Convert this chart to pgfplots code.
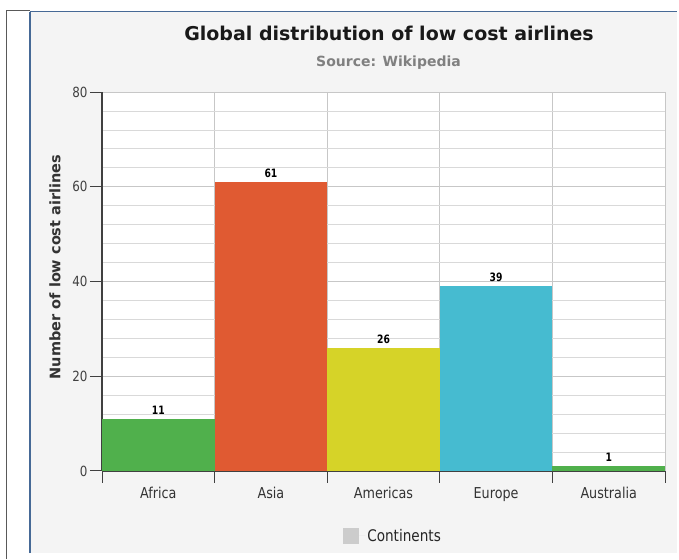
\documentclass[border=0pt]{standalone}
\usepackage{pgfplots}
\pgfplotsset{compat=1.18}
\usepackage{fontspec}
\setmainfont{DejaVu Sans}
\newfontfamily\narrow[FakeStretch=0.85]{DejaVu Sans}
\newfontfamily\narrowb[FakeStretch=0.8]{DejaVu Sans Bold}
\definecolor{cgreen}{RGB}{80,176,76}
\definecolor{corange}{RGB}{224,90,50}
\definecolor{cyellow}{RGB}{214,211,40}
\definecolor{ccyan}{RGB}{70,187,208}
\definecolor{panel}{RGB}{244,244,244}
\definecolor{frameblue}{RGB}{70,105,150}
\begin{document}
\begin{tikzpicture}
\path[use as bounding box] (0pt,0pt) rectangle (679pt,559pt);
\fill[white] (0pt,0pt) rectangle (679pt,559pt);
\fill[panel] (30pt,6pt) rectangle (677pt,548pt);
\draw[black!65, line width=1pt] (6pt,0pt) -- (6pt,548pt) -- (30pt,548pt);
\draw[frameblue, line width=1.5pt] (30pt,6pt) -- (30pt,547pt);
\draw[frameblue, line width=1.5pt] (30pt,547.5pt) -- (677pt,547.5pt);
\begin{axis}[
  at={(102pt,88pt)}, anchor=south west,
  scale only axis, width=563pt, height=379pt,
  xmin=-0.5, xmax=4.5, ymin=0, ymax=80,
  axis background/.style={fill=white},
  axis lines*=left,
  axis line style={black!75, line width=1.2pt},
  xtick={-0.5,0.5,1.5,2.5,3.5,4.5},
  xticklabels={},
  xmajorgrids,
  major x tick style={black!75, line width=1pt},
  xticklabel style={font=\narrow\fontsize{15}{17}\selectfont, text=black!80, yshift=-13pt},
  extra x ticks={0,1,2,3,4},
  extra x tick labels={Africa,Asia,Americas,Europe,Australia},
  extra x tick style={grid=none, major tick length=0pt, tick style={draw=none}},
  ytick={0,20,40,60,80},
  minor y tick num=4,
  ymajorgrids, yminorgrids,
  major grid style={black!22, line width=0.8pt},
  minor grid style={black!15, line width=0.8pt},
  major y tick style={black!75, line width=1pt},
  major tick length=12pt, minor tick length=0pt,
  tick align=outside,
  yticklabel style={font=\narrow\fontsize{14}{16}\selectfont, text=black!75, xshift=1pt},
  /pgf/number format/assume math mode=true,
  nodes near coords,
  every node near coord/.append style={font=\narrowb\fontsize{11.5}{13}\selectfont, text=black, yshift=1pt},
  legend style={at={(0.517,-0.1715)}, anchor=center, draw=none, fill=none,
     font=\narrow\fontsize{16}{18}\selectfont, text=black!85},
  legend image code/.code={\path (-3pt,0pt) -- (19pt,0pt);\fill[#1] (-3pt,-8pt) rectangle (13pt,8pt);},
]
\addplot[ybar, bar width=1, bar shift=0pt, fill=cgreen, draw=none, forget plot] coordinates {(0,11)};
\addplot[ybar, bar width=1, bar shift=0pt, fill=corange, draw=none, forget plot] coordinates {(1,61)};
\addplot[ybar, bar width=1, bar shift=0pt, fill=cyellow, draw=none, forget plot] coordinates {(2,26)};
\addplot[ybar, bar width=1, bar shift=0pt, fill=ccyan, draw=none, forget plot] coordinates {(3,39)};
\addplot[ybar, bar width=1, bar shift=0pt, fill=cgreen, draw=none, forget plot] coordinates {(4,1)};
\addlegendimage{fill=black!20, draw=none}
\addlegendentry{Continents}
\end{axis}
\node[font=\bfseries\fontsize{19}{22}\selectfont, text=black!90] at (389pt,526pt) {Global distribution of low cost airlines};
\node[font=\bfseries\fontsize{14}{17}\selectfont, text=black!50] at (388.5pt,496pt) {Source: Wikipedia};
\node[font=\bfseries\fontsize{14.5}{17}\selectfont, text=black!80, rotate=90] at (55pt,292pt) {Number of low cost airlines};
\end{tikzpicture}
\end{document}
